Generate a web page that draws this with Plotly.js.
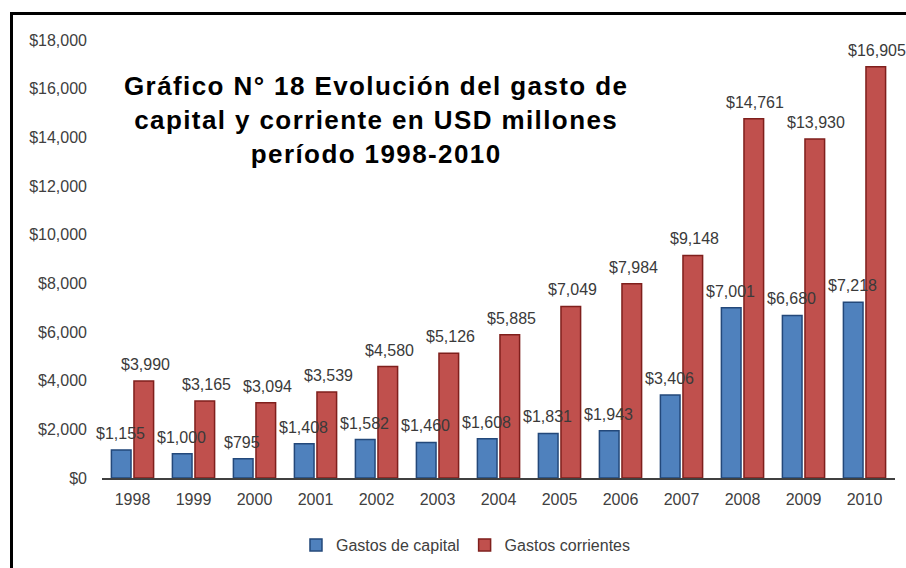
<!DOCTYPE html>
<html>
<head>
<meta charset="utf-8">
<script src="https://cdn.plot.ly/plotly-3.0.1.min.js"></script>
<style>
  html, body { margin: 0; padding: 0; overflow: hidden; background: #fff; }
  #chart { width: 906px; height: 568px; }
  #frame { position: absolute; left: 10px; top: 12px; width: 1000px; height: 1000px;
           border: 3px solid #000; pointer-events: none; }
</style>
</head>
<body>
<div id="chart"></div>
<div id="frame"></div>
<script>
const years = ['1998','1999','2000','2001','2002','2003','2004','2005','2006','2007','2008','2009','2010'];
const gastosCapital = [1155, 1000, 795, 1408, 1582, 1460, 1608, 1831, 1943, 3406, 7001, 6680, 7218];
const gastosCorrientes = [3990, 3165, 3094, 3539, 4580, 5126, 5885, 7049, 7984, 9148, 14761, 13930, 16905];
const yTicks = [0, 2000, 4000, 6000, 8000, 10000, 12000, 14000, 16000, 18000];
const titleLines = ['Gráfico N° 18 Evolución del gasto de', 'capital y corriente en USD millones', 'período 1998-2010'];

const fmt = v => '$' + v.toLocaleString('en-US');
const FONT = 'Liberation Sans, Arial, sans-serif';

const traces = [
  { type: 'bar', name: 'Gastos de capital', x: years, y: gastosCapital,
    marker: { color: '#4F81BD', line: { color: '#23487A', width: 1.5 } },
    hoverinfo: 'none' },
  { type: 'bar', name: 'Gastos corrientes', x: years, y: gastosCorrientes,
    marker: { color: '#C0504D', line: { color: '#7F1F1C', width: 1.5 } },
    hoverinfo: 'none' }
];

const annotations = [];
const OFF = 12.5;
years.forEach((yr, i) => {
  annotations.push({ x: i, y: gastosCapital[i], xref: 'x', yref: 'y', text: fmt(gastosCapital[i]),
    xshift: -OFF, yshift: 6, yanchor: 'bottom', showarrow: false,
    font: { family: FONT, size: 16, color: '#3a3a3a' } });
  annotations.push({ x: i, y: gastosCorrientes[i], xref: 'x', yref: 'y', text: fmt(gastosCorrientes[i]),
    xshift: OFF, yshift: 6, yanchor: 'bottom', showarrow: false,
    font: { family: FONT, size: 16, color: '#3a3a3a' } });
});
annotations.push({ x: 0.3455, y: 0.817, xref: 'paper', yref: 'paper',
  text: titleLines.map(l => '<span style="letter-spacing:1.4px"><b>' + l + '</b></span>').join('<br>'),
  showarrow: false, xanchor: 'center', yanchor: 'middle', align: 'center',
  font: { family: FONT, size: 26, color: '#000' } });

const layout = {
  width: 906, height: 568,
  margin: { l: 102, r: 11, t: 40, b: 90, autoexpand: false },
  paper_bgcolor: '#fff', plot_bgcolor: '#fff',
  barmode: 'group', bargap: 0.26, bargroupgap: 0.13,
  font: { family: FONT, size: 16, color: '#404040' },
  xaxis: { type: 'category', range: [-0.5, years.length - 0.5], autorange: false, automargin: false,
    showgrid: false, showline: true, linecolor: '#404040', linewidth: 1.5,
    ticks: '', tickfont: { family: FONT, size: 16, color: '#404040' }, ticklabelstandoff: 6, zeroline: false },
  yaxis: { range: [0, 18000], autorange: false, automargin: false, tickvals: yTicks, ticktext: yTicks.map(fmt), showgrid: false,
    showline: false, zeroline: false, ticks: '', ticklabelstandoff: 14,
    tickfont: { family: FONT, size: 16, color: '#404040' } },
  showlegend: true,
  legend: { orientation: 'h', x: 0.459, xanchor: 'center', y: -0.153, yanchor: 'middle',
    font: { family: FONT, size: 16, color: '#404040' }, itemwidth: 30 },
  annotations: annotations
};

Plotly.newPlot('chart', traces, layout, { staticPlot: true });
</script>
</body>
</html>
